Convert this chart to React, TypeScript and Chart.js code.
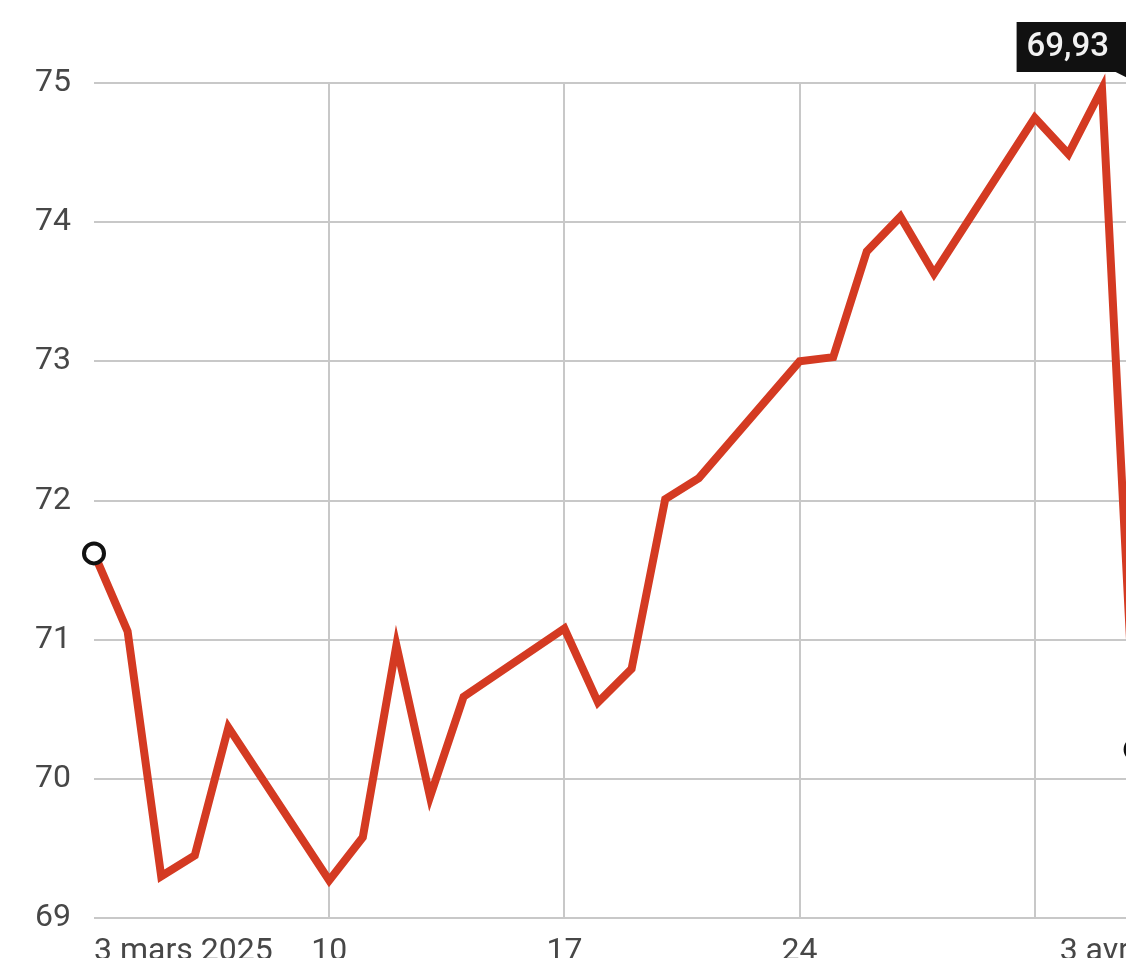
import { useEffect, useRef } from "react";
import { Chart, registerables } from "chart.js";

Chart.register(...registerables);

// Days since 3 March 2025 (trading days only)
const dayOffsets = [0, 1, 2, 3, 4, 7, 8, 9, 10, 11, 14, 15, 16, 17, 18, 21, 22, 23, 24, 25, 28, 29, 30, 31];
const prices = [
  71.62, 71.06, 69.3, 69.45, 70.37, 69.27, 69.58, 70.96, 69.87, 70.59, 71.08, 70.55, 70.79, 72.01, 72.16,
  73.0, 73.03, 73.79, 74.04, 73.63, 74.75, 74.49, 74.96, 70.21,
];
const xTickDays = [0, 7, 14, 21, 28, 31];
const xTickLabels = ["3 mars 2025", "10", "17", "24", "", "3 avr."];
const yMin = 69;
const yMax = 75;
const calloutText = "69,93";

const FONT = "Roboto, 'Liberation Sans', sans-serif";

export default function App() {
  const ref = useRef<HTMLCanvasElement | null>(null);

  useEffect(() => {
    if (!ref.current) return;
    const points = dayOffsets.map((d, i) => ({ x: d, y: prices[i] }));
    const last = points.length - 1;

    const callout = {
      id: "callout",
      afterDatasetsDraw(chart: any) {
        const ctx = chart.ctx;
        const xs = chart.scales.x;
        const area = chart.chartArea;
        const right = xs.getPixelForValue(dayOffsets[last]) - 6;
        const left = right - 113;
        const top = area.top - 61;
        const bottom = area.top - 11;
        ctx.save();
        ctx.fillStyle = "#111";
        ctx.fillRect(left, top, right - left, bottom - top);
        ctx.beginPath();
        ctx.moveTo(right - 14, bottom);
        ctx.lineTo(right, bottom);
        ctx.lineTo(right + 2, bottom + 8);
        ctx.closePath();
        ctx.fill();
        ctx.fillStyle = "#f2f2f2";
        ctx.font = `500 33px ${FONT}`;
        ctx.textAlign = "left";
        ctx.textBaseline = "middle";
        ctx.fillText(calloutText, left + 10, (top + bottom) / 2 + 1);
        ctx.restore();
      },
    };

    const chart = new Chart(ref.current, {
      type: "line",
      data: {
        datasets: [
          {
            data: points,
            borderColor: "#d43a22",
            borderWidth: 8,
            borderJoinStyle: "miter",
            tension: 0,
            pointRadius: (c: any) => (c.dataIndex === 0 || c.dataIndex === last ? 10 : 0),
            pointBorderColor: "#111",
            pointBackgroundColor: "#fff",
            pointBorderWidth: 4,
            clip: false,
          },
        ],
      },
      options: {
        responsive: false,
        animation: false,
        layout: { padding: { top: 83, right: 30.8, left: 0, bottom: 0 } },
        plugins: { legend: { display: false }, tooltip: { enabled: false } },
        scales: {
          x: {
            type: "linear",
            min: 0,
            max: 32,
            afterBuildTicks: (s: any) => {
              s.ticks = xTickDays.map((v) => ({ value: v }));
            },
            afterFit: (s: any) => {
              s.height = 82;
            },
            border: { display: false },
            grid: {
              drawTicks: false,
              lineWidth: 2,
              color: (c: any) =>
                c.tick && (c.tick.value === 0 || c.tick.value === 31) ? "rgba(0,0,0,0)" : "#c8c8c8",
            },
            ticks: {
              align: "inner",
              padding: 15,
              maxRotation: 0,
              autoSkip: false,
              color: "#474747",
              font: { family: FONT, size: 32 },
              callback: (v: any) => {
                const i = xTickDays.indexOf(Number(v));
                return i >= 0 ? xTickLabels[i] : "";
              },
            },
          },
          y: {
            min: yMin,
            max: yMax,
            afterFit: (s: any) => {
              s.width = 94;
            },
            border: { display: false },
            grid: { drawTicks: false, lineWidth: 2, color: "#c8c8c8" },
            ticks: {
              stepSize: 1,
              padding: 23,
              color: "#474747",
              font: { family: FONT, size: 32 },
            },
          },
        },
      },
      plugins: [callout],
    } as any);

    return () => chart.destroy();
  }, []);

  return (
    <div
      style={{
        position: "fixed",
        left: 0,
        top: 0,
        width: 1126,
        height: 958,
        overflow: "hidden",
        background: "#fff",
      }}
    >
      <canvas ref={ref} width={1200} height={1000} style={{ display: "block" }} />
    </div>
  );
}
